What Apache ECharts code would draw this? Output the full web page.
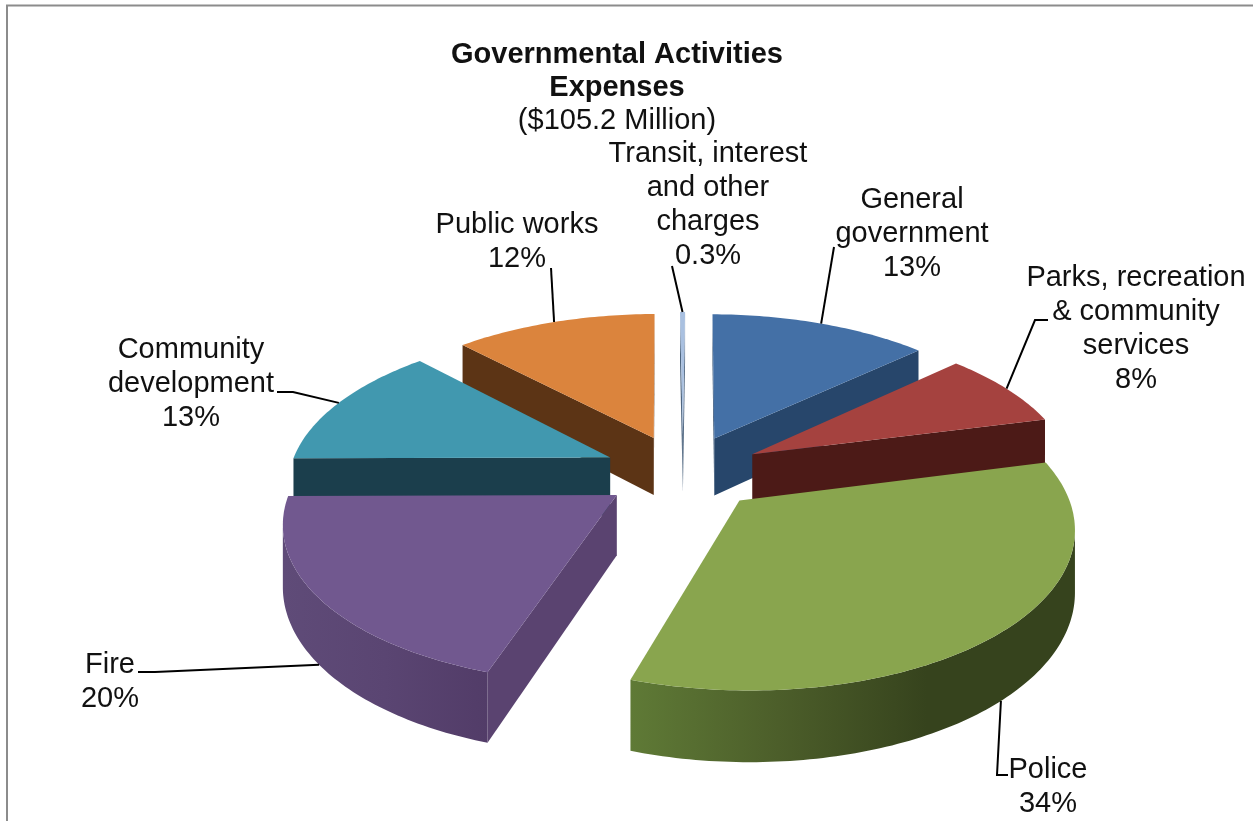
<!DOCTYPE html>
<html>
<head>
<meta charset="utf-8">
<title>Governmental Activities Expenses</title>
<style>
  html, body { margin: 0; padding: 0; background: #fff; overflow: hidden; }
  #chart { width: 1253px; height: 821px; }
</style>
<script src="https://cdn.jsdelivr.net/npm/echarts@6/dist/echarts.min.js"></script>
</head>
<body>
<div id="chart"></div>
<script>
// values, clockwise from 12 o'clock
const categories = ['General government', 'Parks, recreation & community services', 'Police', 'Fire', 'Community development', 'Public works', 'Transit, interest and other charges']
const shares = [13, 8, 34, 20, 13, 12, 0.3]
const shareLabels = ['13%', '8%', '34%', '20%', '13%', '12%', '0.3%']
const titleLines = ['Governmental Activities', 'Expenses']
const subtitle = '($105.2 Million)'

// wrapped names as they are printed on the chart
const wrappedNames = ['General\ngovernment', 'Parks, recreation\n& community\nservices', 'Police', 'Fire', 'Community\ndevelopment', 'Public works', 'Transit, interest\nand other\ncharges']

// back to front, so nearer slices cover the ones behind them
const drawOrder = [5, 0, 6, 4, 1, 3, 2]

const topColors = ['#4470a6', '#a5423f', '#89a54e', '#71588f', '#4198af', '#db843d', '#a9c0e0']
const sideColors = ['#27466b', '#4c1a17', '#5f7a36', '#5a4370', '#1b3e4c', '#5c3415', '#4f6680']
const wallStops = [
  ['#27466b', '#27466b'],
  ['#4c1a17', '#4c1a17'],
  ['#5f7a36', '#4c5e2a', '#36431d', '#36431d'],
  ['#5f4b78', '#5a4572', '#523c68'],
  ['#1b3e4c', '#1b3e4c'],
  ['#5c3415', '#5c3415'],
  ['#4f6680', '#4f6680']
]

// projection of the tilted pie: k is the perspective strength, rotation in radians
const view = { cx: 683, cy: 472, rx: 321, ry: 152, depth: 59, k: 0.15, explode: 0.25, rotation: 0.008 }

// label centres and the elbow of each leader line, in page pixels
const labelLayout = [
  { x: 912, y: 234, leader: [[834, 247]], bottom: false },
  { x: 1136, y: 329, leader: [[1048, 320], [1035, 320]], bottom: false },
  { x: 1048, y: 787, leader: [[1008, 775], [997, 775]], bottom: true },
  { x: 110, y: 682, leader: [[138, 672], [155, 672]], bottom: true },
  { x: 191, y: 384, leader: [[277, 392], [293, 392]], bottom: false },
  { x: 517, y: 242, leader: [[551, 268]], bottom: false },
  { x: 708, y: 205, leader: [[672, 266]], bottom: false }
]

const total = shares.reduce((a, b) => a + b, 0)
const slices = []
let acc = 0
shares.forEach((s, i) => {
  const start = acc / total * Math.PI * 2 + view.rotation
  acc += s
  const end = acc / total * Math.PI * 2 + view.rotation
  const mid = (start + end) / 2
  slices.push({ index: i, start, end, mid, ox: Math.sin(mid) * view.explode, oy: -Math.cos(mid) * view.explode })
})

// h = 0 is the top face, h = 1 the bottom of the slab
const project = (u, v, h) => {
  const w = 1 / (1 - view.k * v)
  return [view.cx + view.rx * u * w, view.cy + (view.ry * v + view.depth * h) * w]
}
const rimPoint = (s, angle, h) => project(s.ox + Math.sin(angle), s.oy - Math.cos(angle), h)
const apexPoint = (s, h) => project(s.ox, s.oy, h)

const signedArea = (pts) => {
  let sum = 0
  pts.forEach((p, i) => {
    const q = pts[(i + 1) % pts.length]
    sum += p[0] * q[1] - q[0] * p[1]
  })
  return sum
}

const renderSlice = (params) => {
  const s = slices[drawOrder[params.dataIndex]]
  const steps = Math.max(2, Math.ceil((s.end - s.start) / (Math.PI / 180)))
  const angles = []
  for (let i = 0; i <= steps; i++) angles.push(s.start + (s.end - s.start) * i / steps)

  const children = []
  const side = sideColors[s.index]

  // side walls, only those facing the viewer
  const startWall = [apexPoint(s, 0), rimPoint(s, s.start, 0), rimPoint(s, s.start, 1), apexPoint(s, 1)]
  const endWall = [apexPoint(s, 0), rimPoint(s, s.end, 0), rimPoint(s, s.end, 1), apexPoint(s, 1)]
  if (signedArea(startWall) < 0) {
    children.push({ type: 'polygon', shape: { points: startWall }, style: { fill: side } })
  }
  if (signedArea(endWall) > 0) {
    children.push({ type: 'polygon', shape: { points: endWall }, style: { fill: side } })
  }

  // curved outer wall
  const upper = []
  const lower = []
  for (let i = 0; i < steps; i++) {
    const a = rimPoint(s, angles[i], 0)
    const b = rimPoint(s, angles[i + 1], 0)
    const c = rimPoint(s, angles[i + 1], 1)
    const d = rimPoint(s, angles[i], 1)
    if (signedArea([a, b, c, d]) < 0) {
      if (!upper.length) { upper.push(a); lower.push(d) }
      upper.push(b)
      lower.push(c)
    }
  }
  if (upper.length) {
    const stops = wallStops[s.index]
    const fill = new echarts.graphic.LinearGradient(0, 0, 1, 0, stops.map((c, i) => ({ offset: i / (stops.length - 1), color: c })))
    children.push({ type: 'polygon', shape: { points: upper.concat(lower.reverse()) }, style: { fill } })
  }

  // top face
  const top = [apexPoint(s, 0)].concat(angles.map((a) => rimPoint(s, a, 0)))
  children.push({ type: 'polygon', shape: { points: top }, style: { fill: topColors[s.index] } })

  return { type: 'group', children }
}

const labelFont = '29px "Liberation Sans", Arial, sans-serif'
const renderLabel = (params) => {
  const i = params.dataIndex
  const s = slices[i]
  const layout = labelLayout[i]
  const end = layout.bottom ? rimPoint(s, s.mid, 1) : rimPoint(s, s.mid, 0)
  return {
    type: 'group',
    children: [
      { type: 'polyline', shape: { points: layout.leader.concat([end]) }, style: { stroke: '#000', lineWidth: 2, fill: null } },
      {
        type: 'text',
        x: layout.x,
        y: layout.y,
        style: {
          text: wrappedNames[i] + '\n' + shareLabels[i],
          font: labelFont,
          lineHeight: 33.7,
          fill: '#111',
          align: 'center',
          verticalAlign: 'middle'
        }
      }
    ]
  }
}

const chart = echarts.init(document.getElementById('chart'), null, { renderer: 'canvas' })
chart.setOption({
  animation: false,
  backgroundColor: '#fff',
  graphic: [
    { type: 'polyline', shape: { points: [[7, 830], [7, 5.5], [1260, 5.5]] }, style: { stroke: '#8c8c8c', lineWidth: 2, fill: null } },
    {
      type: 'text', x: 617, y: 71.5,
      style: { text: titleLines.join('\n'), font: 'bold 29px "Liberation Sans", Arial, sans-serif', lineHeight: 33.5, fill: '#111', align: 'center', verticalAlign: 'middle' }
    },
    {
      type: 'text', x: 617, y: 121,
      style: { text: subtitle, font: labelFont, fill: '#111', align: 'center', verticalAlign: 'middle' }
    }
  ],
  series: [
    {
      type: 'custom',
      coordinateSystem: 'none',
      renderItem: renderSlice,
      silent: true,
      z: 2,
      data: drawOrder.map((i) => ({ name: categories[i], value: shares[i] }))
    },
    {
      type: 'custom',
      coordinateSystem: 'none',
      renderItem: renderLabel,
      silent: true,
      z: 3,
      data: categories.map((name, i) => ({ name, value: shares[i] }))
    }
  ]
})
</script>
</body>
</html>
